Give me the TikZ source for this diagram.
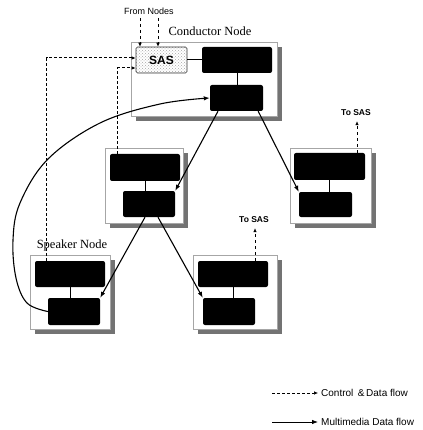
\documentclass[tikz,border=0pt]{standalone}
\usepackage{fontspec}
\setmainfont{Liberation Serif}
\newfontfamily\lsans{Liberation Sans}
\usetikzlibrary{shadows,calc,arrows.meta,patterns}
\begin{document}
\begin{tikzpicture}[x=1pt,y=-1pt,
  outerbox/.style={draw=gray!70,line width=0.9pt,fill=white,minimum width=#1,
     general shadow={fill=black!55,shadow xshift=5pt,shadow yshift=-5pt},inner sep=0},
  blk/.style={fill=black,rounded corners=2pt,inner sep=0},
  sasbox/.style={draw=black!80,line width=0.6pt,pattern=crosshatch dots,pattern color=gray!70,
     rounded corners=1.5pt,inner sep=0,minimum width=51pt,minimum height=26pt,
     font=\lsans\bfseries\fontsize{12}{12}\selectfont},
  ttl/.style={font=\fontsize{12.5}{13}\selectfont,inner sep=0},
  small/.style={font=\lsans\fontsize{9}{9}\selectfont,inner sep=0},
  tosas/.style={font=\lsans\bfseries\fontsize{8.5}{9}\selectfont,inner sep=0},
  legend/.style={font=\lsans\fontsize{10}{10}\selectfont,inner sep=0,anchor=west},
  ctl/.style={densely dashed,line width=1pt,-{Latex[length=4pt,width=3.5pt]}},
  lctl/.style={dashed,line width=0.6pt,-{Latex[length=4pt,width=3.5pt]}},
  mm/.style={line width=1.1pt,-{Latex[length=6pt,width=4.5pt]}},
  conn/.style={line width=1pt}]
\useasboundingbox (0,0) rectangle (422,430);
% outer boxes
\node[outerbox=146pt,minimum height=74pt] (cond) at (204,79) {};
\node[outerbox=78pt,minimum height=75pt] (mid) at (144,185.5) {};
\node[outerbox=81pt,minimum height=75pt] (rgt) at (330.5,185.5) {};
\node[outerbox=80pt,minimum height=74pt] (spk) at (70,292) {};
\node[outerbox=84pt,minimum height=74pt] (bot) at (235,292) {};
% inner boxes
\node[sasbox] (sas) at (161.5,60) {SAS};
\node[blk,minimum width=70pt,minimum height=26pt] (c1) at (237,60) {};
\node[blk,minimum width=53pt,minimum height=26pt] (c2) at (236.5,98) {};
\node[blk,minimum width=70pt,minimum height=27pt] (m1) at (145,167.5) {};
\node[blk,minimum width=52pt,minimum height=26pt] (m2) at (149,204) {};
\node[blk,minimum width=71pt,minimum height=27pt] (r1) at (329.5,166.5) {};
\node[blk,minimum width=53pt,minimum height=25pt] (r2) at (325.5,204.5) {};
\node[blk,minimum width=70pt,minimum height=26pt] (s1) at (70,274) {};
\node[blk,minimum width=52pt,minimum height=27pt] (s2) at (74,311.5) {};
\node[blk,minimum width=70pt,minimum height=26pt] (b1) at (233,274) {};
\node[blk,minimum width=52pt,minimum height=27pt] (b2) at (229,311.5) {};
% labels
\node[ttl] (condlbl) at (210,31) {Conductor Node};
\node[ttl] (spklbl) at (72,245) {Speaker Node};
\node[small] (fromn) at (149,11) {From Nodes};
\node[tosas] (ts1) at (356,113) {To SAS};
\node[tosas] (ts2) at (254,220) {To SAS};
% internal links
\draw[conn] (sas.east) -- (c1.west);
\draw[conn] (c1.south) -- (c1.south |- c2.north);
\draw[conn] (m1.south) -- (m1.south |- m2.north);
\draw[conn] (r1.south) -- (r1.south |- r2.north);
\draw[conn] (s1.south) -- (s1.south |- s2.north);
\draw[conn] (b1.south) -- (b1.south |- b2.north);
% control flow
\coordinate (fn1) at (140,18);
\coordinate (fn2) at (158,18);
\draw[lctl] (fn1) -- (fn1 |- sas.north);
\draw[lctl] (fn2) -- (fn2 |- sas.north);
\draw[ctl] ($(s1.north west)+(12,0)$) |- ([yshift=2pt]sas.west);
\draw[ctl] ($(m1.north west)+(8,0)$) |- ([yshift=-8pt]sas.west);
\draw[lctl] ($(r1.north)+(27.5,0)$) -- ($(ts1.south)+(1,5)$);
\draw[lctl] ($(b1.north)+(22,0)$) -- ($(ts2.south)+(1,5)$);
% multimedia flow
\draw[mm] ([xshift=-18.5pt]c2.south) -- (m2.north east);
\draw[mm] ([xshift=-5pt]c2.south east) -- (r2.north west);
\draw[mm] ([xshift=-4pt]m2.south) -- (s2.north east);
\draw[mm] ([xshift=9pt]m2.south) -- (b2.north west);
\draw[mm] plot[smooth,tension=0.6] coordinates {(s2.west) (27,303) (16,278) (13,240) (20,203) (48,159) (100,123) (160,104) (c2.west)};
% legend
\coordinate (l1a) at (272,393);
\coordinate (l1b) at (318,393);
\coordinate (l2a) at (272,422);
\coordinate (l2b) at (318,422);
\draw[lctl,densely dashed] (l1a) -- (l1b);
\draw[mm,line width=0.8pt] (l2a) -- (l2b);
\node[legend] (lg1) at (321,393) {Control \,\&\,Data flow};
\node[legend] (lg2) at (321,422) {Multimedia Data flow};
\end{tikzpicture}
\end{document}
